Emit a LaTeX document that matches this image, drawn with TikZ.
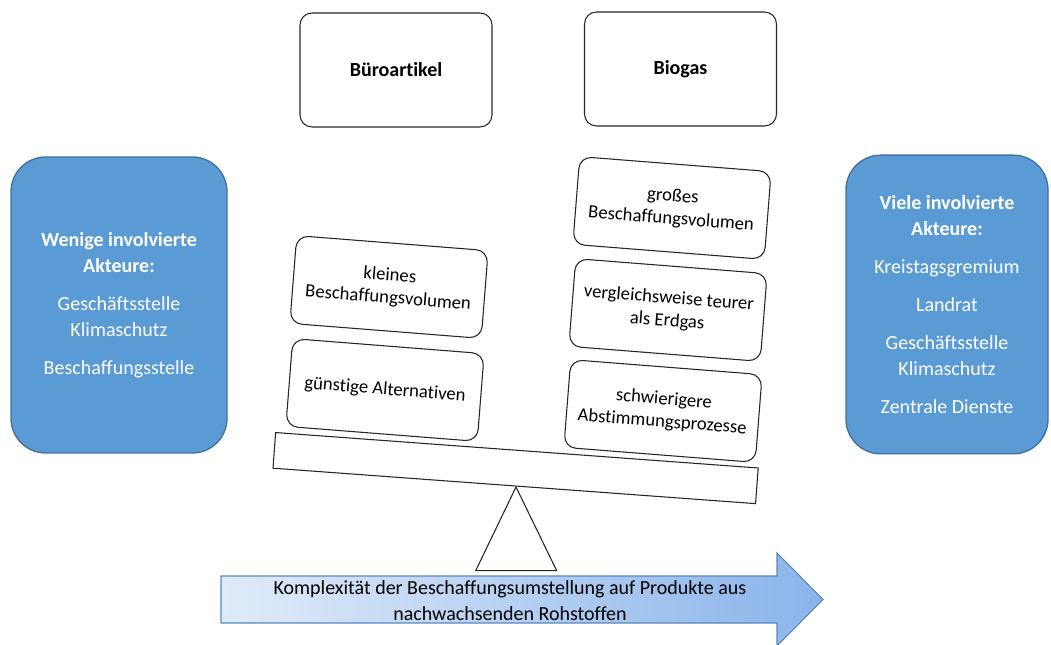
\documentclass[tikz,border=0pt]{standalone}
\usepackage{fontspec}
\setmainfont{Carlito}[Ligatures=NoCommon]
\definecolor{bluefill}{HTML}{5B9BD5}
\definecolor{blueline}{HTML}{41719C}
\definecolor{arrL}{HTML}{E0EBF9}
\definecolor{arrR}{HTML}{8AB4EA}
\definecolor{arrLine}{HTML}{5B88BD}
\begin{document}
\begin{tikzpicture}[x=0.75pt,y=-0.75pt,
  actor/.style={draw=blueline, fill=bluefill, rounded corners=26pt, text=white,
    align=center, font=\fontsize{15}{19.5}\selectfont, line width=1pt, inner sep=0pt},
  titlebox/.style={draw=black!85, rounded corners=9pt, minimum width=144pt,
    minimum height=85.5pt, font=\bfseries\fontsize{15}{18}\selectfont, line width=0.8pt},
  itembox/.style={draw=black!85, fill=white, rounded corners=9pt, minimum width=144pt,
    minimum height=66pt, align=center, font=\fontsize{14}{17}\selectfont,
    line width=0.8pt, rotate=-4.5, inner sep=0pt},
  beambox/.style={draw=black!85, fill=white, minimum width=362.9pt, minimum height=26.8pt,
    line width=0.8pt, rotate=-4.2, inner sep=0pt},
  arrowshape/.style={draw=arrLine, line width=0.8pt, left color=arrL, right color=arrR},
  arrowtext/.style={align=center, font=\fontsize{15}{19.5}\selectfont}
]
\useasboundingbox (0,0) rectangle (1051,645);

% actor boxes
\node[actor, minimum width=162pt, minimum height=222pt] (few) at (119,305)
  {{\bfseries Wenige involvierte}\\{\bfseries Akteure:}\\[9pt]Geschäftsstelle\\Klimaschutz\\[9pt]Beschaffungsstelle};
\node[actor, minimum width=151.5pt, minimum height=224pt] (many) at (947,304.5)
  {{\bfseries Viele involvierte}\\{\bfseries Akteure:}\\[9pt]Kreistagsgremium\\[9pt]Landrat\\[9pt]Geschäftsstelle\\Klimaschutz\\[9pt]Zentrale Dienste};

% titles
\node[titlebox] (buero) at (396,70) {Büroartikel};
\node[titlebox] (biogas) at (680.5,69) {Biogas};

% fulcrum
\coordinate (apex) at (516,487);
\coordinate (baseL) at (475.7,570.7);
\coordinate (baseR) at (556.7,570.7);
\draw[draw=black!85, fill=white, line width=0.8pt] (apex) -- (baseL) -- (baseR) -- cycle;

% beam
\node[beambox] (beam) at (515.6,468.1) {};

% weights
\node[itembox] (klein) at (389,287) {kleines\\Beschaffungsvolumen};
\node[itembox] (guenstig) at (385,390) {günstige Alternativen};
\node[itembox] (gross) at (672,208) {großes\\Beschaffungsvolumen};
\node[itembox] (teuer) at (668,310) {vergleichsweise teurer\\als Erdgas};
\node[itembox] (schwer) at (663,411) {schwierigere\\Abstimmungsprozesse};

% arrow
\path[arrowshape] (221,576) -- (777,576) -- (777,553) -- (823,599.5) -- (777,646) -- (777,623) -- (221,623) -- cycle;
\node[arrowtext] (complex) at (510,601) {Komplexität der Beschaffungsumstellung auf Produkte aus\\nachwachsenden Rohstoffen};
\end{tikzpicture}
\end{document}
